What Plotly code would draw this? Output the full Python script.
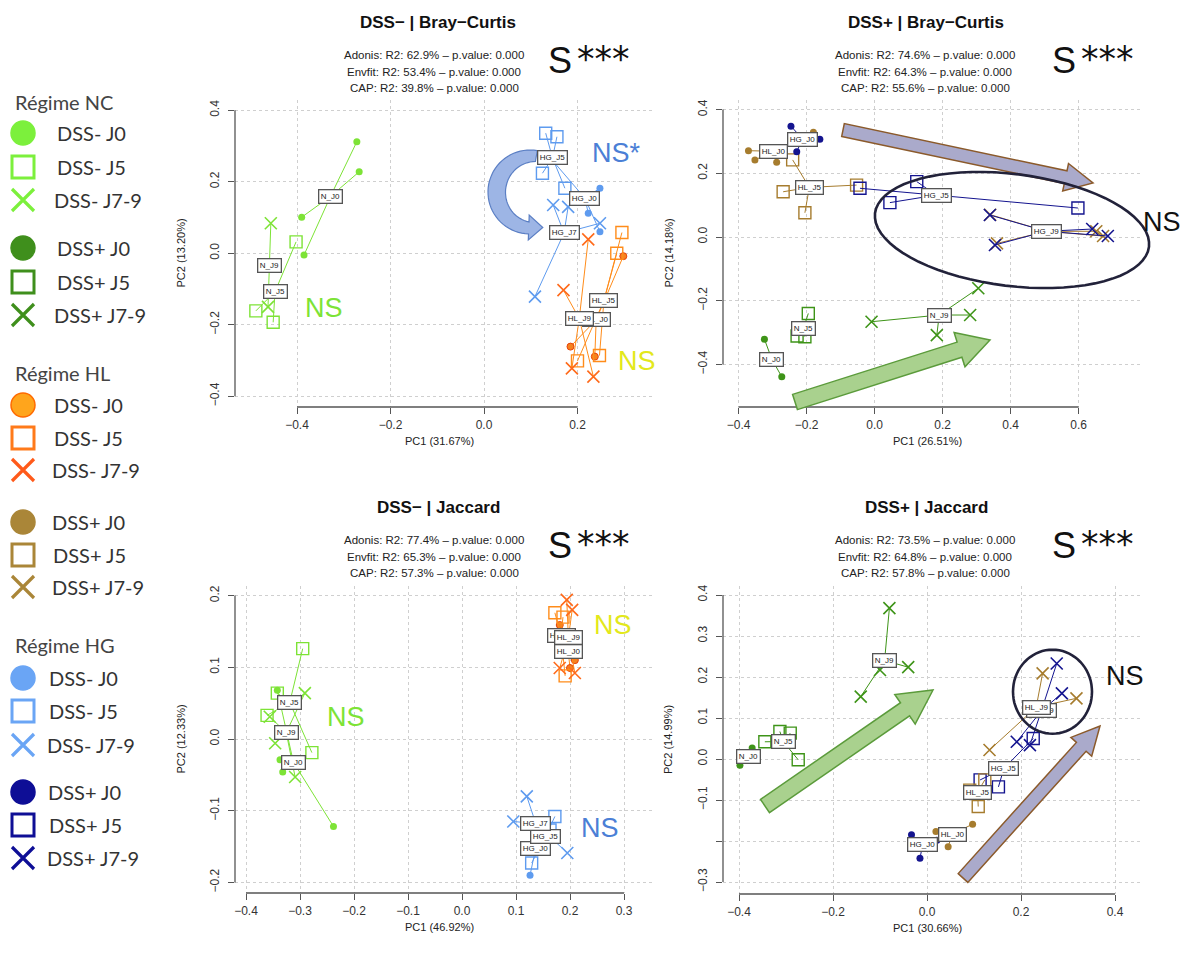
import math
import plotly.graph_objects as go

W, H = 1188, 958

# ---------------- data (PC1, PC2) ----------------
# Panel A : DSS- | Bray-Curtis
A_NC_J0 = [(-0.272, 0.312), (-0.267, 0.228), (-0.390, 0.101), (-0.385, -0.005)]
A_NC_J5 = [(-0.402, 0.032), (-0.488, -0.161), (-0.451, -0.193)]
A_NC_J7 = [(-0.456, 0.084), (-0.462, -0.150)]
A_HL_J0 = [(0.185, -0.261), (0.237, -0.289), (0.298, -0.008)]
A_HL_J5 = [(0.295, 0.058), (0.284, 0.000), (0.200, -0.301), (0.247, -0.286)]
A_HL_J7 = [(0.223, 0.039), (0.170, -0.103), (0.188, -0.322), (0.234, -0.345)]
A_HG_J0 = [(0.248, 0.182), (0.223, 0.112), (0.248, 0.060), (0.145, 0.262)]
A_HG_J5 = [(0.132, 0.336), (0.156, 0.326), (0.125, 0.224), (0.173, 0.182)]
A_HG_J7 = [(0.148, 0.135), (0.180, 0.130), (0.248, 0.084), (0.109, -0.121)]

# Panel B : DSS+ | Bray-Curtis
B_NC_J0 = [(-0.324, -0.321), (-0.273, -0.439), (-0.310, -0.390)]
B_NC_J5 = [(-0.195, -0.240), (-0.228, -0.311), (-0.205, -0.313)]
B_NC_J7 = [(-0.009, -0.266), (0.183, -0.308), (0.281, -0.245), (0.305, -0.161)]
B_HL_J0 = [(-0.371, 0.271), (-0.352, 0.242), (-0.288, 0.235), (-0.180, 0.329)]
B_HL_J5 = [(-0.269, 0.142), (-0.205, 0.076), (-0.241, 0.242), (-0.053, 0.163)]
B_HL_J7 = [(0.340, 0.070), (0.360, -0.020), (0.652, 0.018), (0.672, 0.003)]
B_HG_J0 = [(-0.246, 0.348), (-0.161, 0.307), (-0.229, 0.268)]
B_HG_J5 = [(-0.043, 0.153), (0.045, 0.108), (0.124, 0.174), (0.598, 0.091)]
B_HG_J7 = [(0.339, 0.069), (0.354, -0.025), (0.640, 0.025), (0.686, 0.003)]

# Panel C : DSS- | Jaccard
C_NC_J0 = [(-0.238, -0.122), (-0.332, -0.046), (-0.337, -0.029), (-0.342, 0.068)]
C_NC_J5 = [(-0.295, 0.126), (-0.278, -0.019), (-0.342, 0.064), (-0.361, 0.033)]
C_NC_J7 = [(-0.356, 0.031), (-0.291, 0.064), (-0.346, -0.006), (-0.309, -0.053)]
C_HL_J0 = [(0.200, 0.099), (0.181, 0.159), (0.209, 0.110)]
C_HL_J5 = [(0.172, 0.176), (0.187, 0.170), (0.191, 0.088)]
C_HL_J7 = [(0.194, 0.194), (0.209, 0.092), (0.204, 0.180), (0.181, 0.099)]
C_HG_J0 = [(0.126, -0.190), (0.144, -0.141), (0.139, -0.127)]
C_HG_J5 = [(0.172, -0.108), (0.129, -0.173), (0.163, -0.127)]
C_HG_J7 = [(0.120, -0.080), (0.095, -0.115), (0.195, -0.159)]

# Panel D : DSS+ | Jaccard
D_NC_J0 = [(-0.398, -0.015), (-0.372, 0.027), (-0.370, 0.005)]
D_NC_J5 = [(-0.345, 0.042), (-0.313, 0.067), (-0.291, 0.063), (-0.274, -0.002)]
D_NC_J7 = [(-0.080, 0.368), (-0.141, 0.152), (-0.040, 0.224), (-0.100, 0.217)]
D_HL_J0 = [(0.097, -0.159), (0.019, -0.177), (0.045, -0.214)]
D_HL_J5 = [(0.109, -0.116), (0.091, -0.076), (0.123, -0.051)]
D_HL_J7 = [(0.246, 0.209), (0.318, 0.148), (0.133, 0.022)]
D_HG_J0 = [(-0.033, -0.185), (-0.015, -0.242), (0.021, -0.198)]
D_HG_J5 = [(0.226, 0.050), (0.152, -0.068), (0.113, -0.051)]
D_HG_J7 = [(0.276, 0.233), (0.287, 0.160), (0.191, 0.042), (0.219, 0.034)]

TITLES = ["DSS\u2212 | Bray\u2212Curtis", "DSS+ | Bray\u2212Curtis", "DSS\u2212 | Jaccard", "DSS+ | Jaccard"]
ADONIS = ["62.9", "74.6", "77.4", "73.5"]
ENVFIT = ["53.4", "64.3", "65.3", "64.8"]
CAP = ["39.8", "55.6", "57.3", "57.8"]
XTITLES = ["PC1 (31.67%)", "PC1 (26.51%)", "PC1 (46.92%)", "PC1 (30.66%)"]
YTITLES = ["PC2 (13.20%)", "PC2 (14.18%)", "PC2 (12.33%)", "PC2 (14.99%)"]

X_TICKS = [[-0.4, -0.2, 0.0, 0.2], [-0.4, -0.2, 0.0, 0.2, 0.4, 0.6],
           [-0.4, -0.3, -0.2, -0.1, 0.0, 0.1, 0.2, 0.3], [-0.4, -0.2, 0.0, 0.2, 0.4]]
Y_TICKS = [[-0.4, -0.2, 0.0, 0.2, 0.4], [-0.4, -0.2, 0.0, 0.2, 0.4],
           [-0.2, -0.1, 0.0, 0.1, 0.2], [-0.3, -0.2, -0.1, 0.0, 0.1, 0.2, 0.3, 0.4]]
Y_HIDDEN_LABEL = [[], [], [], [-0.2]]

LABELS_MINUS = {"NC": ["N_J0", "N_J5", "N_J9"], "HL": ["HL_J0", "HL_J5", "HL_J9"], "HG": ["HG_J0", "HG_J5", "HG_J7"]}
LABELS_PLUS = {"NC": ["N_J0", "N_J5", "N_J9"], "HL": ["HL_J0", "HL_J5", "HL_J9"], "HG": ["HG_J0", "HG_J5", "HG_J9"]}
REGIME_ORDER = [["NC", "HL", "HG"], ["NC", "HL", "HG"], ["NC", "HL", "HG"], ["NC", "HG", "HL"]]

LEG_HEADERS = ["R\u00e9gime NC", "R\u00e9gime HL", "R\u00e9gime HG"]
LEG_ITEMS = ["DSS- J0", "DSS- J5", "DSS- J7-9", "DSS+ J0", "DSS+ J5", "DSS+ J7-9"]

# ---------------- styles ----------------
COL_MINUS = {"NC": "#7DE336", "HL": "#FF8C1A", "HG": "#5E9BEF"}
COL_PLUS = {"NC": "#3E9418", "HL": "#A67C2E", "HG": "#14148F"}
HL_MINUS_DOT = ("#F5821F", "#E8420A")
HL_MINUS_X = "#FF6A1A"

GEOM = [
    dict(L=235, R=652, T=100, B=407, x0=484.0, xs=467.5, y0=253.3, ys=357.5),
    dict(L=723, R=1140, T=100, B=407, x0=874.6, xs=340.0, y0=237.0, ys=318.5),
    dict(L=235, R=652, T=586, B=893, x0=462.0, xs=540.0, y0=739.0, ys=717.0),
    dict(L=723, R=1140, T=586, B=894, x0=927.0, xs=470.0, y0=759.0, ys=410.0),
]
PANEL_GROUPS = [
    ({"NC": [A_NC_J0, A_NC_J5, A_NC_J7], "HL": [A_HL_J0, A_HL_J5, A_HL_J7], "HG": [A_HG_J0, A_HG_J5, A_HG_J7]}, "minus"),
    ({"NC": [B_NC_J0, B_NC_J5, B_NC_J7], "HL": [B_HL_J0, B_HL_J5, B_HL_J7], "HG": [B_HG_J0, B_HG_J5, B_HG_J7]}, "plus"),
    ({"NC": [C_NC_J0, C_NC_J5, C_NC_J7], "HL": [C_HL_J0, C_HL_J5, C_HL_J7], "HG": [C_HG_J0, C_HG_J5, C_HG_J7]}, "minus"),
    ({"NC": [D_NC_J0, D_NC_J5, D_NC_J7], "HL": [D_HL_J0, D_HL_J5, D_HL_J7], "HG": [D_HG_J0, D_HG_J5, D_HG_J7]}, "plus"),
]
FONT = "Liberation Sans, Arial, Helvetica, sans-serif"

fig = go.Figure()
annotations = []
shapes = []


def fmt(v):
    s = f"{abs(v):.1f}"
    return ("\u2212" + s) if v < -1e-9 else s


for i, g in enumerate(GEOM):
    n = i + 1
    xa = "x" if n == 1 else f"x{n}"
    ya = "y" if n == 1 else f"y{n}"
    xr = [(g["L"] - g["x0"]) / g["xs"], (g["R"] - g["x0"]) / g["xs"]]
    yr = [(g["y0"] - g["B"]) / g["ys"], (g["y0"] - g["T"]) / g["ys"]]
    ax_common = dict(showline=False, zeroline=False, showgrid=True, gridcolor="#cfcfcf", griddash="dot",
                     gridwidth=1, ticks="outside", ticklen=6, tickwidth=1, tickcolor="#555",
                     tickfont=dict(family=FONT, size=12, color="#333"))
    fig.update_layout(**{
        ("xaxis" if n == 1 else f"xaxis{n}"): dict(domain=[g["L"] / W, g["R"] / W], range=xr, anchor=ya,
                                                   tickvals=X_TICKS[i], ticktext=[fmt(v) for v in X_TICKS[i]],
                                                   ticklabelstandoff=1, **ax_common),
        ("yaxis" if n == 1 else f"yaxis{n}"): dict(domain=[1 - g["B"] / H, 1 - g["T"] / H], range=yr, anchor=xa,
                                                   tickvals=Y_TICKS[i], tickangle=-90, ticklabelstandoff=4,
                                                   ticktext=["" if v in Y_HIDDEN_LABEL[i] else fmt(v) for v in Y_TICKS[i]],
                                                   **ax_common),
    })
    shapes.append(dict(type="line", xref=f"{xa} domain", yref=ya, x0=0, x1=0, y0=min(Y_TICKS[i]), y1=max(Y_TICKS[i]),
                       line=dict(color="#555", width=1.3), layer="above"))
    shapes.append(dict(type="line", xref=xa, yref=f"{ya} domain", y0=0, y1=0, x0=min(X_TICKS[i]), x1=max(X_TICKS[i]),
                       line=dict(color="#555", width=1.3), layer="above"))

    groups, kind = PANEL_GROUPS[i]
    cols = COL_MINUS if kind == "minus" else COL_PLUS
    labels = LABELS_MINUS if kind == "minus" else LABELS_PLUS
    for reg in REGIME_ORDER[i]:
        col = cols[reg]
        for t, pts in enumerate(groups[reg]):
            cx = sum(p[0] for p in pts) / len(pts)
            cy = sum(p[1] for p in pts) / len(pts)
            lx, ly = [], []
            for p in pts:
                lx += [cx, p[0], None]
                ly += [cy, p[1], None]
            fig.add_trace(go.Scatter(x=lx, y=ly, xaxis=xa, yaxis=ya, mode="lines",
                                     line=dict(color=col, width=1), hoverinfo="skip", showlegend=False))
            px_ = [p[0] for p in pts]
            py_ = [p[1] for p in pts]
            if t == 0:
                if kind == "minus" and reg == "HL":
                    mk = dict(symbol="circle", size=7, color=HL_MINUS_DOT[0], line=dict(color=HL_MINUS_DOT[1], width=1))
                else:
                    mk = dict(symbol="circle", size=7, color=col, line=dict(width=0))
            elif t == 1:
                mk = dict(symbol="square-open", size=12, color=col, line=dict(color=col, width=1.4))
            else:
                xc = HL_MINUS_X if (kind == "minus" and reg == "HL") else col
                mk = dict(symbol="x-thin-open", size=12, color=xc, line=dict(color=xc, width=1.6))
            fig.add_trace(go.Scatter(x=px_, y=py_, xaxis=xa, yaxis=ya, mode="markers", marker=mk,
                                     hoverinfo="skip", showlegend=False))
            annotations.append(dict(x=cx, y=cy, xref=xa, yref=ya, text=labels[reg][t], showarrow=False,
                                    font=dict(family=FONT, size=8, color="#222"), bgcolor="white",
                                    bordercolor="#555", borderwidth=1.3, borderpad=1.5))

fig.update_layout(xaxis5=dict(domain=[0, 1], range=[0, W], visible=False, anchor="y5", fixedrange=True),
                  yaxis5=dict(domain=[0, 1], range=[H, 0], visible=False, anchor="x5", fixedrange=True))


def txt(x, y, s, size, color="#222", bold=False, xanchor="center", family=FONT, angle=0):
    if bold:
        s = f"<b>{s}</b>"
    annotations.append(dict(x=x, y=y, xref="x5", yref="y5", text=s, showarrow=False, xanchor=xanchor,
                            yanchor="middle", textangle=angle, font=dict(family=family, size=size, color=color)))


TITLE_POS = [(438, 22), (926, 22), (438, 507), (926, 507)]
STATS_X = [434, 925, 434, 925]
S_POS = [(574, 60), (1078, 60), (574, 545), (1078, 545)]
for i in range(4):
    tx, ty = TITLE_POS[i]
    txt(tx, ty, TITLES[i], 17, "#111", bold=True)
    base = ty + 33
    txt(STATS_X[i], base, f"Adonis: R2: {ADONIS[i]}% \u2013 p.value: 0.000", 11.5, "#222")
    txt(STATS_X[i], base + 16.5, f"Envfit: R2: {ENVFIT[i]}% \u2013 p.value: 0.000", 11.5, "#222")
    txt(STATS_X[i], base + 33, f"CAP: R2: {CAP[i]}% \u2013 p.value: 0.000", 11.5, "#222")
    sx, sy = S_POS[i]
    txt(sx, sy, "S", 36, "#111", xanchor="right")
    txt(sx + 1, sy - 1, "***", 35, "#111", xanchor="left", family="DejaVu Sans, sans-serif")
    g = GEOM[i]
    txt((g["L"] + g["R"]) / 2 - 4, g["B"] + 34, XTITLES[i], 11, "#222")
    txt(g["L"] - 55, (g["T"] + g["B"]) / 2, YTITLES[i], 11, "#222", angle=-90)

NS_TEXT = [("NS", 324, 308, "#7DE336"), ("NS*", 616, 153, "#4B7FD6"), ("NS", 637, 361, "#E3E81C"),
           ("NS", 1162, 222, "#111"), ("NS", 346, 717, "#7DE336"), ("NS", 613, 625, "#E3E81C"),
           ("NS", 600, 828, "#4B7FD6"), ("NS", 1125, 676, "#111")]
for s, x, y, c in NS_TEXT:
    txt(x, y, s, 27, c)


def arrow_path(tail, tip, sw, hw, hl):
    (x0, y0), (x1, y1) = tail, tip
    dx, dy = x1 - x0, y1 - y0
    L = math.hypot(dx, dy)
    ux, uy = dx / L, dy / L
    nx, ny = -uy, ux
    bx, by = x1 - ux * hl, y1 - uy * hl
    pts = [(x0 + nx * sw / 2, y0 + ny * sw / 2), (bx + nx * sw / 2, by + ny * sw / 2),
           (bx + nx * hw / 2, by + ny * hw / 2), (x1, y1), (bx - nx * hw / 2, by - ny * hw / 2),
           (bx - nx * sw / 2, by - ny * sw / 2), (x0 - nx * sw / 2, y0 - ny * sw / 2)]
    return "M " + " L ".join(f"{x:.1f},{y:.1f}" for x, y in pts) + " Z"


ARROWS = [((843, 130), (1093, 183), 13, 28, 28, "#AAAACB", "#8B5A2B"),
          ((795, 402), (990, 340), 16, 36, 32, "#A9D18E", "#5B9B3B"),
          ((765, 806), (933, 690), 16, 36, 34, "#A9D18E", "#5B9B3B"),
          ((963, 878), (1100, 726), 13, 28, 28, "#AAAACB", "#8B5A2B")]
for tail, tip, sw, hw, hl, fc, lc in ARROWS:
    shapes.append(dict(type="path", xref="x5", yref="y5", path=arrow_path(tail, tip, sw, hw, hl),
                       fillcolor=fc, line=dict(color=lc, width=1.5), layer="above"))

# curved blue arrow (panel A)
cxa, cya, r_out = 530.0, 192.0, 42.0
th0, th1 = -80.0, -268.0
N = 40
outer, inner = [], []
for k in range(N + 1):
    f = k / N
    th = math.radians(th0 + (th1 - th0) * f)
    thick = 11 + 6 * math.sin(math.pi * f) + 1 * f
    outer.append((cxa + r_out * math.cos(th), cya + r_out * math.sin(th)))
    inner.append((cxa + (r_out - thick) * math.cos(th), cya + (r_out - thick) * math.sin(th)))
the = math.radians(th1)
tx_, ty_ = math.sin(the), -math.cos(the)
rm = 35.0
head = [(cxa + 48 * math.cos(the), cya + 48 * math.sin(the)),
        (cxa + rm * math.cos(the) + 14 * tx_, cya + rm * math.sin(the) + 14 * ty_),
        (cxa + 23 * math.cos(the), cya + 23 * math.sin(the))]
poly = outer + head + inner[::-1]
shapes.append(dict(type="path", xref="x5", yref="y5",
                   path="M " + " L ".join(f"{x:.1f},{y:.1f}" for x, y in poly) + " Z",
                   fillcolor="#9DB5E5", line=dict(color="#5B7FC4", width=1.2), layer="above"))


def ellipse_path(cx, cy, a, b, rot):
    phi = math.radians(rot)
    pts = []
    for k in range(73):
        t = 2 * math.pi * k / 72
        x = cx + a * math.cos(t) * math.cos(phi) - b * math.sin(t) * math.sin(phi)
        y = cy + a * math.cos(t) * math.sin(phi) + b * math.sin(t) * math.cos(phi)
        pts.append((x, y))
    return "M " + " L ".join(f"{x:.1f},{y:.1f}" for x, y in pts) + " Z"


shapes.append(dict(type="path", xref="x5", yref="y5", path=ellipse_path(1012, 230, 138, 56, 7),
                   line=dict(color="#22223A", width=2.6), layer="above"))
shapes.append(dict(type="path", xref="x5", yref="y5", path=ellipse_path(1052.5, 691.7, 39.5, 42, 0),
                   line=dict(color="#22223A", width=2.6), layer="above"))

# ---------------- legend (left) ----------------
LEG_HEADER_Y = [101.7, 373, 645]
LEG_ROW_Y = [[133, 167, 200, 248, 282, 315], [405, 438, 470, 522, 555, 587], [678, 711, 745, 792, 825, 858]]
LEG_TEXT_X = [[55, 55, 52, 55, 55, 52], [52, 52, 50, 50, 51, 50], [47, 47, 45, 46, 47, 45]]
LEG_FONT = "Lato, Open Sans, sans-serif"
LEG_COLS = [["#7CF03C", "#7CF03C", "#7CF03C", "#3F8F1C", "#3F8F1C", "#3F8F1C"],
            ["#FFA51C", "#FF7A1A", "#FF5A1A", "#AA8638", "#AA8638", "#AA8638"],
            ["#6AA5F5", "#6AA5F5", "#6AA5F5", "#0E0E96", "#0E0E96", "#0E0E96"]]
for r in range(3):
    txt(12.7, LEG_HEADER_Y[r], LEG_HEADERS[r], 20, "#444", xanchor="left", family=LEG_FONT)
    for k in range(6):
        c = LEG_COLS[r][k]
        y = LEG_ROW_Y[r][k]
        if k % 3 == 0:
            edge = "#FF6A00" if (r == 1 and k == 0) else c
            mk = dict(symbol="circle", size=24, color=c, line=dict(color=edge, width=1.5))
        elif k % 3 == 1:
            mk = dict(symbol="square-open", size=22, color=c, line=dict(color=c, width=3))
        else:
            mk = dict(symbol="x-thin-open", size=22, color=c, line=dict(color=c, width=3.2))
        fig.add_trace(go.Scatter(x=[23], y=[y], xaxis="x5", yaxis="y5", mode="markers", marker=mk,
                                 hoverinfo="skip", showlegend=False))
        txt(LEG_TEXT_X[r][k], y, LEG_ITEMS[k], 20, "#333", xanchor="left", family=LEG_FONT)

fig.update_layout(width=W, height=H, autosize=False, margin=dict(l=0, r=0, t=0, b=0),
                  paper_bgcolor="white", plot_bgcolor="rgba(0,0,0,0)", showlegend=False,
                  annotations=annotations, shapes=shapes)
fig.write_html("out.html", config={"displayModeBar": False},
               post_script="document.body.style.margin='0';")
